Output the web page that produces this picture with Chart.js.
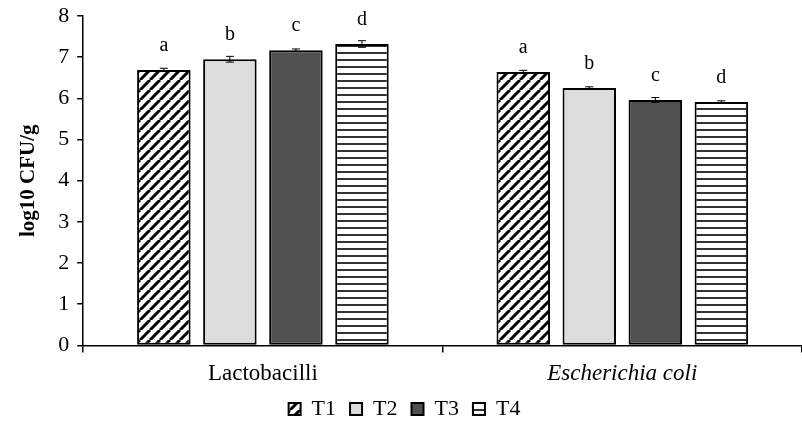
<!DOCTYPE html>
<html>
<head>
<meta charset="utf-8">
<script src="https://cdn.jsdelivr.net/npm/chart.js@4"></script>
<style>
  body { margin: 0; background: #fff; }
  #wrap { width: 802px; height: 430px; }
</style>
</head>
<body>
<div id="wrap"><canvas id="cfuChart"></canvas></div>
<script>
// Data
const categories = ["Lactobacilli", "Escherichia coli"];
const seriesNames = ["T1", "T2", "T3", "T4"];
const t1 = [6.69, 6.64];
const t2 = [6.95, 6.25];
const t3 = [7.17, 5.96];
const t4 = [7.32, 5.91];
const t1Err = [0.04, 0.04];
const t2Err = [0.07, 0.03];
const t3Err = [0.03, 0.06];
const t4Err = [0.08, 0.03];
const letters = ["a", "b", "c", "d"];
const yTicks = [0, 1, 2, 3, 4, 5, 6, 7, 8];

// Patterns
function makePattern(kind) {
    const c = document.createElement("canvas");
    const size = kind === "diag" ? 10 : 7;
    c.width = size;
    c.height = size;
    const ctx = c.getContext("2d");
    ctx.fillStyle = "#fff";
    ctx.fillRect(0, 0, size, size);
    ctx.strokeStyle = "#000";
    if (kind === "diag") {
        ctx.lineWidth = 3;
        ctx.beginPath();
        for (let o = -size; o <= size; o += size) {
            ctx.moveTo(o, size);
            ctx.lineTo(o + size, 0);
        }
        ctx.stroke();
    } else {
        ctx.fillStyle = "#333";
        ctx.fillRect(0, 3, size, 2);
    }
    return ctx.createPattern(c, "repeat");
}

const fills = [makePattern("diag"), "#dcdcdc", "#505050", makePattern("horiz")];
const values = [t1, t2, t3, t4];
const errors = [t1Err, t2Err, t3Err, t4Err];

// Error bars + letters
const annotate = {
    id: "annotate",
    afterDatasetsDraw(chart) {
        const ctx = chart.ctx;
        const y = chart.scales.y;
        ctx.save();
        chart.data.datasets.forEach((ds, i) => {
            const meta = chart.getDatasetMeta(i);
            meta.data.forEach((bar, j) => {
                const v = ds.data[j];
                const e = errors[i][j];
                const yTop = y.getPixelForValue(v + e);
                const yBot = y.getPixelForValue(v - e);
                ctx.strokeStyle = "#000";
                ctx.lineWidth = 1;
                ctx.beginPath();
                ctx.moveTo(bar.x, yTop);
                ctx.lineTo(bar.x, yBot);
                ctx.moveTo(bar.x - 4, yTop);
                ctx.lineTo(bar.x + 4, yTop);
                ctx.moveTo(bar.x - 4, yBot);
                ctx.lineTo(bar.x + 4, yBot);
                ctx.stroke();
                ctx.fillStyle = "#000";
                ctx.font = "20px 'Liberation Serif'";
                ctx.textAlign = "center";
                ctx.textBaseline = "alphabetic";
                ctx.fillText(letters[i], bar.x, y.getPixelForValue(v) - 19);
            });
        });
        ctx.restore();
    },
};

const chartCtx = document.getElementById("cfuChart").getContext("2d");
const cfuChart = new Chart(chartCtx, {
    type: "bar",
    data: {
        labels: categories,
        datasets: seriesNames.map((name, i) => ({
            label: name,
            data: values[i],
            backgroundColor: fills[i],
            borderColor: "#000",
            borderWidth: 2,
            borderSkipped: false,
            categoryPercentage: 0.735,
            barPercentage: 0.81,
        })),
    },
    options: {
        responsive: true,
        maintainAspectRatio: false,
        animation: false,
        layout: { padding: { top: 0, right: 0, left: 7, bottom: 0 } },
        plugins: {
            legend: {
                position: "bottom",
                labels: {
                    color: "#000",
                    font: { family: "'Liberation Serif'", size: 22 },
                    boxWidth: 12,
                    boxHeight: 12,
                    padding: 14,
                },
            },
            tooltip: { enabled: false },
        },
        scales: {
            x: {
                afterFit: (scale) => {
                    scale.height -= 12;
                },
                border: { color: "#000", width: 1.5 },
                grid: {
                    offset: true,
                    drawOnChartArea: false,
                    color: "#000",
                    lineWidth: 1.5,
                    tickLength: 7,
                },
                ticks: {
                    color: "#000",
                    padding: 8,
                    font: (c) => ({
                        family: "'Liberation Serif'",
                        size: 23,
                        style: c.index === 1 ? "italic" : "normal",
                    }),
                },
            },
            y: {
                min: 0,
                max: 8,
                afterBuildTicks: (axis) => {
                    axis.ticks = yTicks.map((v) => ({ value: v }));
                },
                afterFit: (scale) => {
                    scale.paddingTop = 16;
                },
                border: { color: "#000", width: 1.5 },
                grid: {
                    drawOnChartArea: false,
                    color: "#000",
                    lineWidth: 1.5,
                    tickLength: 6,
                },
                ticks: {
                    color: "#000",
                    padding: 8,
                    font: { family: "'Liberation Serif'", size: 22 },
                },
                title: {
                    display: true,
                    text: "log10 CFU/g",
                    color: "#000",
                    font: { family: "'Liberation Serif'", size: 21, weight: "bold" },
                    padding: { top: 9, bottom: 9 },
                },
            },
        },
    },
    plugins: [annotate],
});
</script>
</body>
</html>
